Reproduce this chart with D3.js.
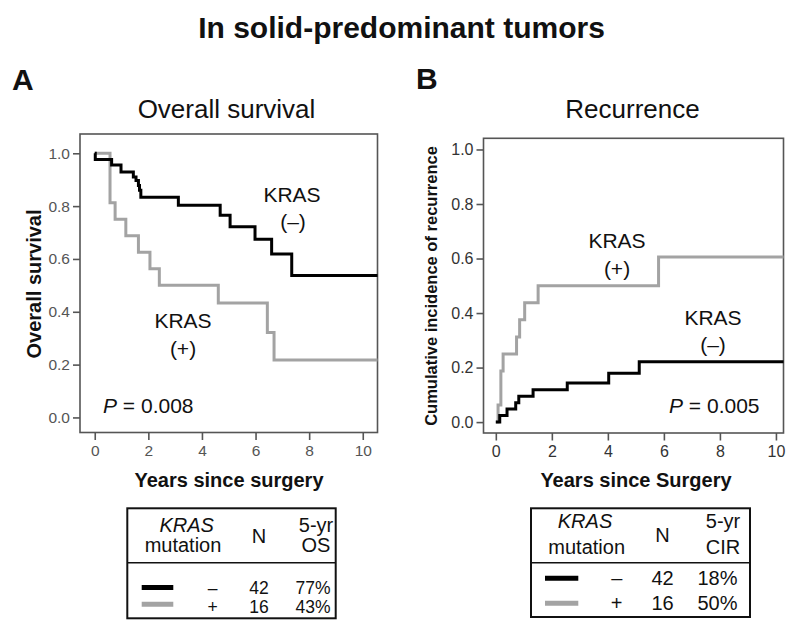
<!DOCTYPE html>
<html><head><meta charset="utf-8">
<script src="https://cdn.jsdelivr.net/npm/d3@7"></script>
<style>
html,body{margin:0;padding:0;background:#fff;}
svg{display:block;font-family:"Liberation Sans",Arial,sans-serif;}
</style></head>
<body>
<svg id="chart" width="800" height="628"></svg>
<script>
// ---------------- data ----------------
const xTicks = [0, 2, 4, 6, 8, 10];
const yTicks = [0, 0.2, 0.4, 0.6, 0.8, 1.0];

// Panel A: overall survival (Kaplan-Meier steps)
const osNegTimes = [0, 0.02, 0.63, 0.98, 1.44, 1.54, 1.63, 1.67, 1.72, 3.12, 4.68, 5.05, 5.98, 6.60, 7.35];
const osNegVals  = [1.0, 0.976, 0.956, 0.929, 0.91, 0.897, 0.878, 0.86, 0.834, 0.803, 0.765, 0.722, 0.675, 0.619, 0.537];
const osPosTimes = [0, 0.57, 0.76, 1.16, 1.63, 2.06, 2.41, 4.61, 6.44, 6.69];
const osPosVals  = [1.0, 0.8125, 0.75, 0.6875, 0.625, 0.5625, 0.5, 0.433, 0.322, 0.217];

// Panel B: cumulative incidence of recurrence
const cirNegTimes = [0, 0.14, 0.40, 0.71, 0.82, 1.33, 2.55, 4.03, 5.12];
const cirNegVals  = [0, 0.024, 0.048, 0.071, 0.095, 0.119, 0.143, 0.179, 0.221];
const cirPosTimes = [0, 0.08, 0.18, 0.26, 0.74, 0.85, 1.03, 1.51, 5.81];
const cirPosVals  = [0, 0.0625, 0.1875, 0.25, 0.3125, 0.375, 0.4375, 0.5, 0.606];

// Tables
const tableGroups = ["\u2013", "+"];
const tableN = [42, 16];
const osRates = ["77%", "43%"];
const cirRates = ["18%", "50%"];

const blackCol = "#000000";
const greyCol = "#a3a3a3";

// ---------------- drawing ----------------
const svg = d3.select("#chart");

svg.append("text").attr("x", 401.5).attr("y", 38).attr("text-anchor", "middle")
  .attr("font-size", 30).attr("font-weight", "bold").attr("fill", "#111")
  .text("In solid-predominant tumors");

svg.append("text").attr("x", 12).attr("y", 90).attr("font-size", 30)
  .attr("font-weight", "bold").attr("fill", "#111").text("A");
svg.append("text").attr("x", 416).attr("y", 89).attr("font-size", 30)
  .attr("font-weight", "bold").attr("fill", "#111").text("B");

function panel(cfg) {
  const g = svg.append("g");
  const x = d3.scaleLinear().domain(cfg.xDomain).range([cfg.left, cfg.right]);
  const y = d3.scaleLinear().domain(cfg.yDomain).range([cfg.bottom, cfg.top]);

  g.append("text").attr("x", cfg.titleX).attr("y", 118).attr("text-anchor", "middle")
    .attr("font-size", 26).attr("fill", "#111").text(cfg.title);

  const xa = g.append("g").attr("transform", `translate(0,${cfg.bottom})`)
    .call(d3.axisBottom(x).tickValues(xTicks).tickSize(7.5).tickPadding(4).tickFormat(d3.format("d")));
  const ya = g.append("g").attr("transform", `translate(${cfg.left},0)`)
    .call(d3.axisLeft(y).tickValues(yTicks).tickSize(7).tickPadding(3).tickFormat(d3.format(".1f")));
  [xa, ya].forEach(a => {
    a.select(".domain").remove();
    a.selectAll(".tick line").attr("stroke", "#555").attr("stroke-width", 1.6);
    a.selectAll(".tick text").attr("fill", cfg.tickCol).attr("font-size", cfg.tickSize)
      .attr("font-family", "Liberation Sans, Arial, sans-serif");
  });
  xa.selectAll(".tick text").attr("dy", "0.8em");

  g.append("rect").attr("x", cfg.left).attr("y", cfg.top)
    .attr("width", cfg.right - cfg.left).attr("height", cfg.bottom - cfg.top)
    .attr("fill", "none").attr("stroke", "#555").attr("stroke-width", 1.6);

  const line = d3.line().x(d => x(d[0])).y(d => y(d[1])).curve(d3.curveStepAfter);
  cfg.series.forEach(s => {
    const pts = s.t.map((t, i) => [t, s.v[i]]);
    pts.push([cfg.xDomain[1], s.v[s.v.length - 1]]);
    g.append("path").datum(pts).attr("d", line).attr("fill", "none")
      .attr("stroke", s.color).attr("stroke-width", 3);
  });

  cfg.notes.forEach(n => {
    g.append("text").attr("x", n.x).attr("y", n.y).attr("text-anchor", "middle")
      .attr("font-size", 21).attr("fill", "#111").text(n.text);
  });
  const p = g.append("text").attr("x", cfg.pX).attr("y", 413).attr("font-size", 21).attr("fill", "#111");
  p.append("tspan").attr("font-style", "italic").text("P");
  p.append("tspan").text(" = " + cfg.pVal);

  g.append("text").attr("x", cfg.xLabX).attr("y", 487).attr("text-anchor", "middle")
    .attr("font-size", 20).attr("font-weight", "bold").attr("fill", "#111").text(cfg.xLabel);
  g.append("text").attr("transform", `translate(${cfg.yLabX},${cfg.yLabY}) rotate(-90)`)
    .attr("text-anchor", "middle").attr("font-size", cfg.yLabSize).attr("font-weight", "bold")
    .attr("fill", "#111").text(cfg.yLabel);
}

panel({
  left: 80, right: 377.5, top: 134, bottom: 432.5,
  xDomain: [-0.55, 10.55], yDomain: [-0.057, 1.073],
  title: "Overall survival", titleX: 226.5,
  tickCol: "#555", tickSize: 15.5,
  series: [
    {t: osPosTimes, v: osPosVals, color: greyCol},
    {t: osNegTimes, v: osNegVals, color: blackCol}
  ],
  notes: [
    {x: 292, y: 202, text: "KRAS"}, {x: 293, y: 229, text: "(\u2013)"},
    {x: 183, y: 328, text: "KRAS"}, {x: 183, y: 356, text: "(+)"}
  ],
  pX: 103, pVal: "0.008",
  xLabel: "Years since surgery", xLabX: 229,
  yLabel: "Overall survival", yLabX: 41, yLabY: 284, yLabSize: 20
});

panel({
  left: 483.5, right: 783.5, top: 138.3, bottom: 433,
  xDomain: [-0.44, 10.27], yDomain: [-0.040, 1.041],
  title: "Recurrence", titleX: 632.5,
  tickCol: "#333", tickSize: 16,
  series: [
    {t: cirPosTimes, v: cirPosVals, color: greyCol},
    {t: cirNegTimes, v: cirNegVals, color: blackCol}
  ],
  notes: [
    {x: 617, y: 248, text: "KRAS"}, {x: 617, y: 276, text: "(+)"},
    {x: 713, y: 325, text: "KRAS"}, {x: 713, y: 352, text: "(\u2013)"}
  ],
  pX: 669, pVal: "0.005",
  xLabel: "Years since Surgery", xLabX: 636,
  yLabel: "Cumulative incidence of recurrence", yLabX: 437, yLabY: 286, yLabSize: 16.5
});

// ---------------- tables ----------------
function table(cfg) {
  const g = svg.append("g");
  g.append("rect").attr("x", cfg.x0).attr("y", 508.3).attr("width", cfg.x1 - cfg.x0)
    .attr("height", cfg.yBot - 508.3).attr("fill", "none").attr("stroke", "#111").attr("stroke-width", 2);
  g.append("line").attr("x1", cfg.x0).attr("x2", cfg.x1).attr("y1", 562.7).attr("y2", 562.7)
    .attr("stroke", "#111").attr("stroke-width", 1.6);
  const t = (x, y, s, fs, italic) => g.append("text").attr("x", x).attr("y", y).attr("text-anchor", "middle")
    .attr("font-size", fs).attr("fill", "#111").attr("font-style", italic ? "italic" : "normal").text(s);
  t(cfg.kX, cfg.h1, "KRAS", 20, true);
  t(cfg.mX, cfg.h2, "mutation", 20);
  t(cfg.nX, (cfg.h1 + cfg.h2) / 2 + 1, "N", 20);
  t(cfg.rX, cfg.h1, "5-yr", 20);
  t(cfg.rX, cfg.h2, cfg.rateLabel, 20);
  const cols = [blackCol, greyCol];
  tableGroups.forEach((grp, i) => {
    g.append("line").attr("x1", cfg.l0).attr("x2", cfg.l1)
      .attr("y1", cfg.lineY[i]).attr("y2", cfg.lineY[i])
      .attr("stroke", cols[i]).attr("stroke-width", 5);
    t(cfg.gX, cfg.rowY[i], grp, cfg.rowFs);
    t(cfg.nX, cfg.rowY[i], tableN[i], cfg.rowFs);
    t(cfg.rX2, cfg.rowY[i], cfg.rates[i], cfg.rowFs);
  });
}

table({
  x0: 127.3, x1: 335.7, yBot: 618.3, h1: 532, h2: 552,
  kX: 186.7, mX: 183, nX: 259, rX: 316, rX2: 313, gX: 212.7,
  l0: 141.7, l1: 173.3, lineY: [587.5, 604.3], rowY: [594, 613], rowFs: 17.5,
  rateLabel: "OS", rates: osRates
});
table({
  x0: 531, x1: 750, yBot: 617, h1: 528, h2: 554,
  kX: 585, mX: 586.7, nX: 662.5, rX: 723, rX2: 717.5, gX: 616.7,
  l0: 545, l1: 578.3, lineY: [578.3, 603.3], rowY: [585, 610], rowFs: 20,
  rateLabel: "CIR", rates: cirRates
});
</script>
</body></html>
